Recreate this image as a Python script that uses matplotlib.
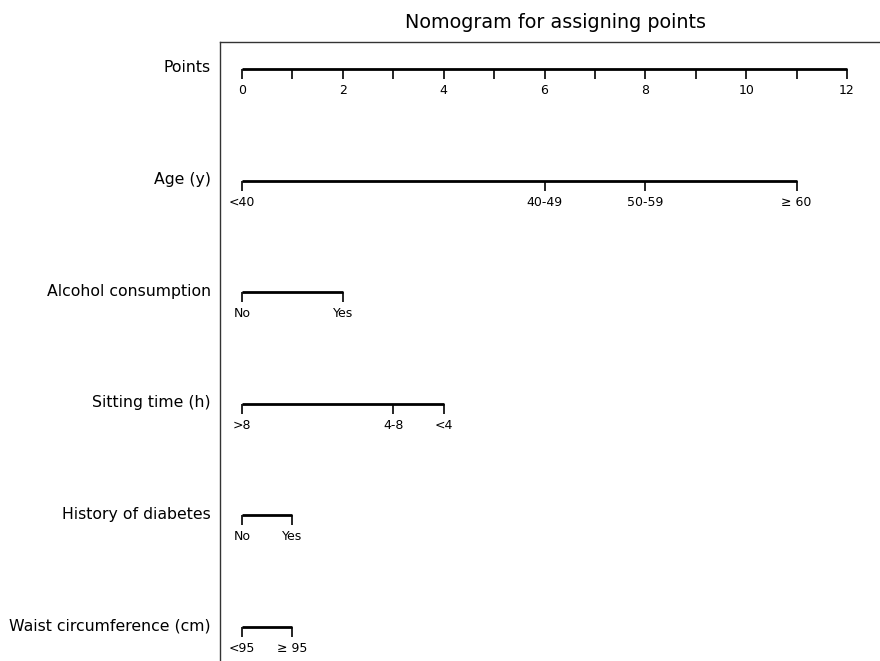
"""Nomogram for assigning points."""

import matplotlib.pyplot as plt
import matplotlib.transforms as mtransforms

ROW_NAMES = [
    "Points",
    "Age (y)",
    "Alcohol consumption",
    "Sitting time (h)",
    "History of diabetes",
    "Waist circumference (cm)",
]

POINT_TICKS = list(range(0, 13))
POINT_LABELS = ["0", "", "2", "", "4", "", "6", "", "8", "", "10", "", "12"]

AGE_POINTS = [0, 6, 8, 11]
AGE_LABELS = ["<40", "40-49", "50-59", "≥ 60"]

ALCOHOL_POINTS = [0, 2]
ALCOHOL_LABELS = ["No", "Yes"]

SITTING_POINTS = [0, 3, 4]
SITTING_LABELS = [">8", "4-8", "<4"]

DIABETES_POINTS = [0, 1]
DIABETES_LABELS = ["No", "Yes"]

WAIST_POINTS = [0, 1]
WAIST_LABELS = ["<95", "≥ 95"]

SCALES = [
    (POINT_TICKS, POINT_LABELS),
    (AGE_POINTS, AGE_LABELS),
    (ALCOHOL_POINTS, ALCOHOL_LABELS),
    (SITTING_POINTS, SITTING_LABELS),
    (DIABETES_POINTS, DIABETES_LABELS),
    (WAIST_POINTS, WAIST_LABELS),
]


def main() -> None:
    fig = plt.figure(figsize=(8.8, 6.61), dpi=100)
    ax = fig.add_axes([220 / 880, 0.0, 1 - 220 / 880, 1 - 42 / 661])

    ax.set_xlim(-22 / 50.42, 12 + 33 / 50.42)
    ax.set_ylim(5.305, -0.242)

    for side in ["right", "bottom"]:
        ax.spines[side].set_visible(False)
    for side in ["left", "top"]:
        ax.spines[side].set_color("#333333")
        ax.spines[side].set_linewidth(1.0)
    ax.set_xticks([])
    ax.set_yticks([])

    tick_len = 0.09
    label_trans = mtransforms.blended_transform_factory(fig.transFigure, ax.transData)

    for row, (name, (positions, labels)) in enumerate(zip(ROW_NAMES, SCALES)):
        ax.plot(
            [min(positions), max(positions)],
            [row, row],
            color="black",
            linewidth=2.0,
            solid_capstyle="butt",
        )
        ax.vlines(positions, row, row + tick_len, color="black", linewidth=1.2)
        for pos, lab in zip(positions, labels):
            ax.text(pos, row + 0.135, lab, ha="center", va="top", fontsize=9)
        ax.text(
            211 / 880,
            row - 0.01,
            name,
            transform=label_trans,
            ha="right",
            va="center",
            fontsize=11.3,
        )

    fig.text(555 / 880, 1 - 22 / 661, "Nomogram for assigning points",
             ha="center", va="center", fontsize=13.8)

    fig.savefig("out.png", dpi=100)
    plt.close(fig)


if __name__ == "__main__":
    main()
